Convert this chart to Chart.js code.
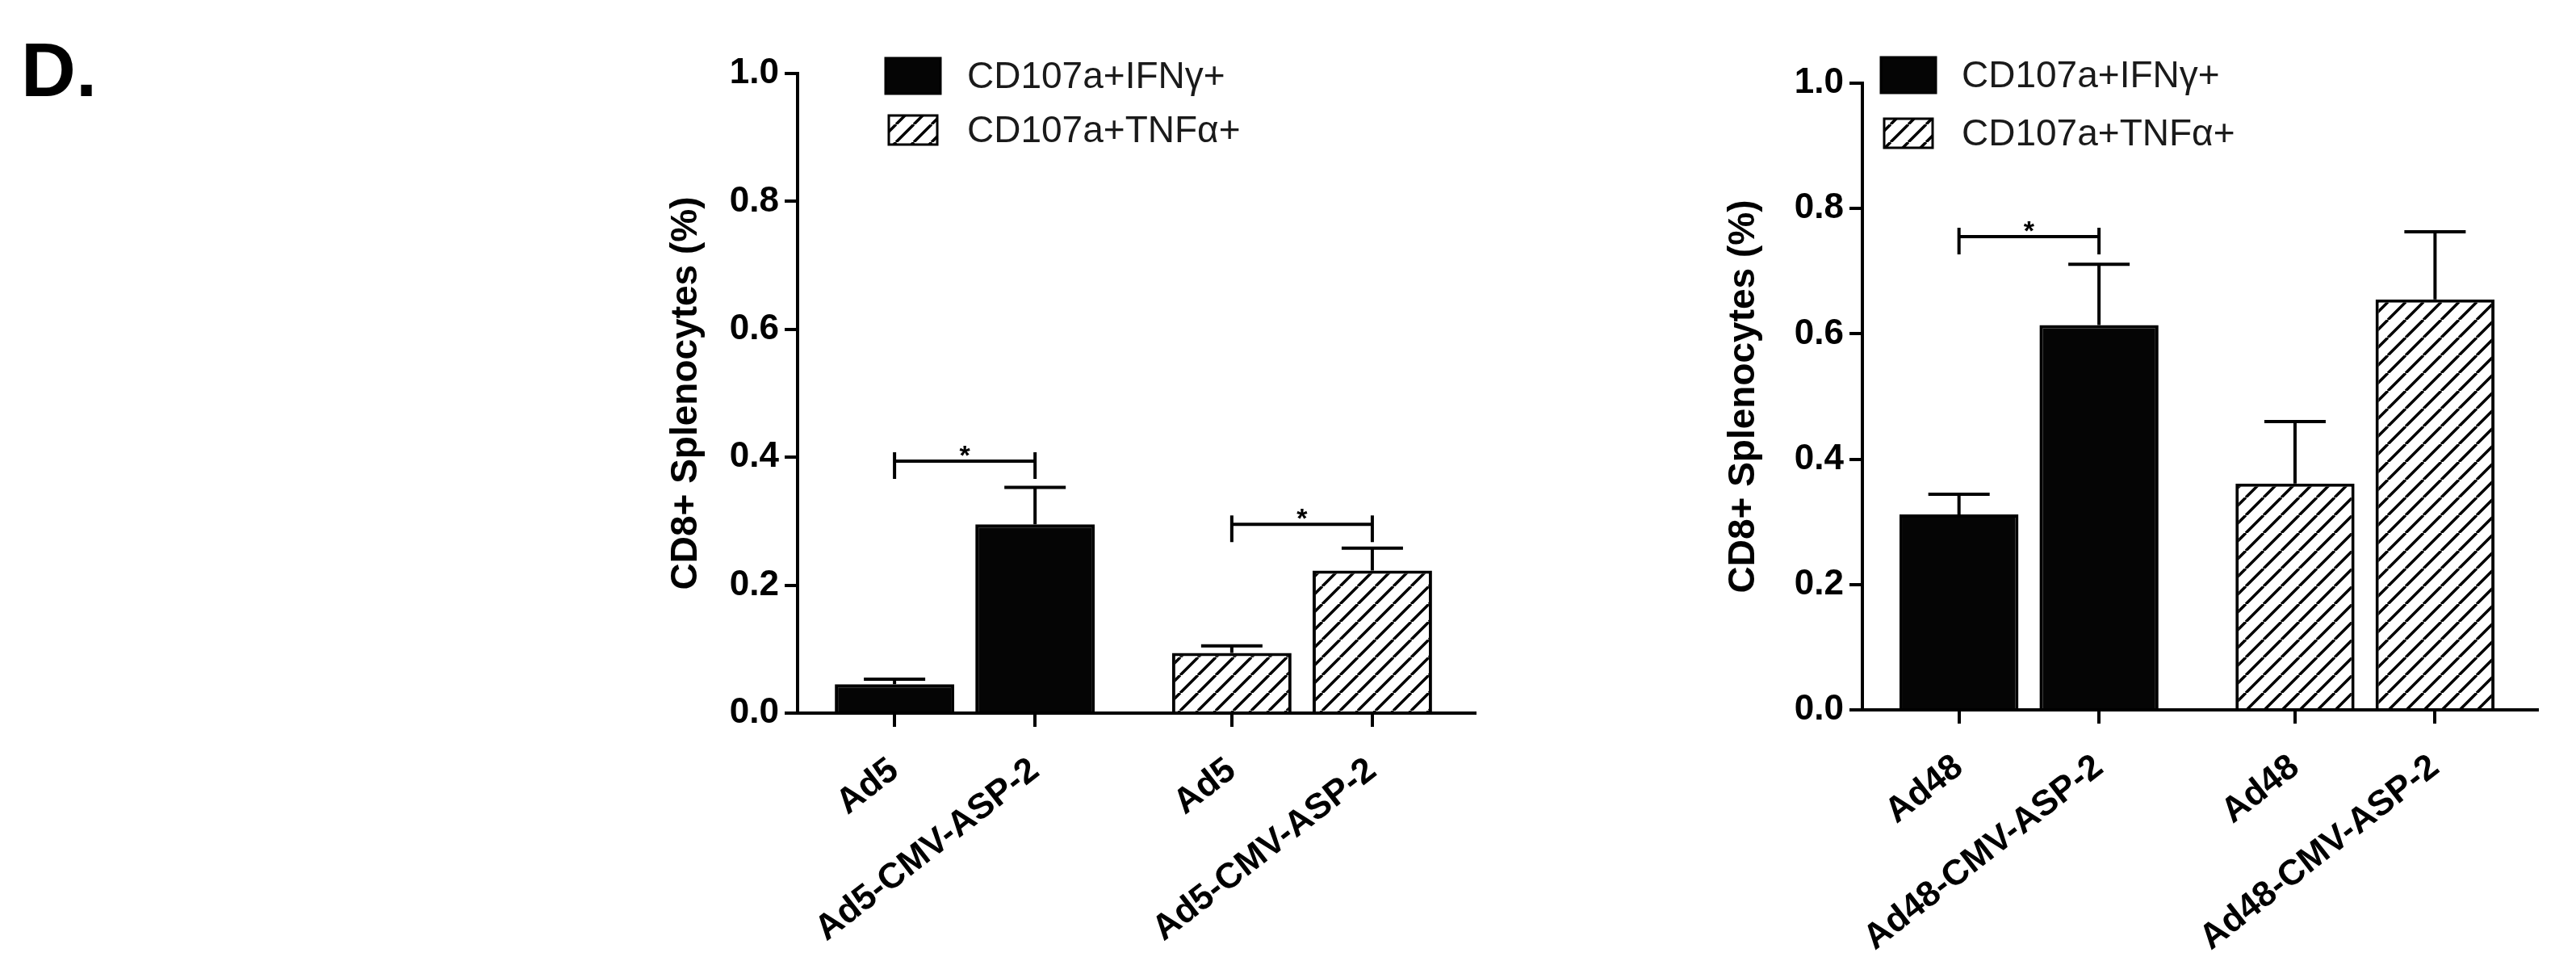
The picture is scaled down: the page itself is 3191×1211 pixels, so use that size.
<!DOCTYPE html>
<html>
<head>
<meta charset="utf-8">
<script src="https://cdn.jsdelivr.net/npm/chart.js@4/dist/chart.umd.min.js"></script>
<style>
html, body { margin: 0; padding: 0; background: #fff; }
body { width: 3191px; height: 1211px; position: relative; overflow: hidden; font-family: "Liberation Sans", Arial, sans-serif; }
#panel-label { position: absolute; left: 26px; top: 40px; font-weight: bold; font-size: 94px; line-height: 1; color: #000; }
canvas { position: absolute; top: 0; }
#left { left: 780px; }
#right { left: 2100px; }
</style>
</head>
<body>
<div id="panel-label">D.</div>
<canvas id="left" width="1100" height="1211"></canvas>
<canvas id="right" width="1091" height="1211"></canvas>
<script>
// x positions of the 4 bars (2 groups, gap between the groups)
const barPos = [0, 1, 2.4, 3.4];
const seriesNames = ['CD107a+IFNγ+', 'CD107a+TNFα+'];
const yTicks = [0, 0.2, 0.4, 0.6, 0.8, 1.0];
const yTitle = 'CD8+ Splenocytes (%)';

// Ad5 panel
const ad5Labels = ['Ad5', 'Ad5-CMV-ASP-2', 'Ad5', 'Ad5-CMV-ASP-2'];
const ad5Ifn = [0.045, 0.295];
const ad5IfnSem = [0.008, 0.058];
const ad5Tnf = [0.094, 0.223];
const ad5TnfSem = [0.011, 0.035];
const ad5Sig = [[0, 1, 0.394], [2.4, 3.4, 0.295]];

// Ad48 panel
const ad48Labels = ['Ad48', 'Ad48-CMV-ASP-2', 'Ad48', 'Ad48-CMV-ASP-2'];
const ad48Ifn = [0.312, 0.614];
const ad48IfnSem = [0.032, 0.097];
const ad48Tnf = [0.361, 0.655];
const ad48TnfSem = [0.099, 0.108];
const ad48Sig = [[0, 1, 0.755]];

const FONT = '"Liberation Sans", Arial, sans-serif';

function hatch(ctx) {
  const s = 22;
  const c = document.createElement('canvas');
  c.width = s; c.height = s;
  const g = c.getContext('2d');
  g.fillStyle = '#fff'; g.fillRect(0, 0, s, s);
  g.strokeStyle = '#000'; g.lineWidth = 3.5;
  g.beginPath();
  for (let k = -1; k <= 1; k++) { g.moveTo(k * s, s); g.lineTo(k * s + s, 0); }
  g.stroke();
  return ctx.createPattern(c, 'repeat');
}

// error bars (upper half only, like GraphPad)
const semBars = {
  id: 'semBars',
  afterDatasetsDraw(chart) {
    const { ctx, scales: { y } } = chart;
    ctx.save();
    ctx.strokeStyle = '#000'; ctx.lineWidth = 4;
    chart.data.datasets.forEach((ds, di) => {
      chart.getDatasetMeta(di).data.forEach((bar, i) => {
        const top = y.getPixelForValue(ds.data[i].y + ds.sem[i]);
        ctx.beginPath();
        ctx.moveTo(bar.x, bar.y); ctx.lineTo(bar.x, top);
        ctx.moveTo(bar.x - 38, top); ctx.lineTo(bar.x + 38, top);
        ctx.stroke();
      });
    });
    ctx.restore();
  }
};

// significance brackets with a star
const sigMarks = {
  id: 'sigMarks',
  afterDatasetsDraw(chart, args, opts) {
    const { ctx, scales: { x, y } } = chart;
    ctx.save();
    ctx.strokeStyle = '#000'; ctx.fillStyle = '#000'; ctx.lineWidth = 4;
    ctx.font = 'bold 34px ' + FONT;
    ctx.textAlign = 'center'; ctx.textBaseline = 'alphabetic';
    opts.pairs.forEach(([a, b, v]) => {
      const x1 = x.getPixelForValue(a), x2 = x.getPixelForValue(b), yy = y.getPixelForValue(v);
      ctx.beginPath();
      ctx.moveTo(x1, yy); ctx.lineTo(x2, yy);
      ctx.moveTo(x1, yy - 11); ctx.lineTo(x1, yy + 22);
      ctx.moveTo(x2, yy - 11); ctx.lineTo(x2, yy + 22);
      ctx.stroke();
      ctx.fillText('*', (x1 + x2) / 2, yy + 4);
    });
    ctx.restore();
  }
};

// legend placed inside the plot, top left
const keyBox = {
  id: 'keyBox',
  afterDraw(chart, args, opts) {
    const { ctx, chartArea } = chart;
    ctx.save();
    ctx.font = '46px ' + FONT;
    ctx.textBaseline = 'middle'; ctx.textAlign = 'left';
    chart.data.datasets.forEach((ds, i) => {
      const cy = chartArea.top + opts.rows[i];
      const cx = chartArea.left + opts.boxX;
      const w = i === 0 ? 68 : 60, h = i === 0 ? 44 : 36;
      ctx.fillStyle = ds.backgroundColor;
      ctx.fillRect(cx - w / 2, cy - h / 2, w, h);
      ctx.strokeStyle = '#000'; ctx.lineWidth = 3;
      ctx.strokeRect(cx - w / 2, cy - h / 2, w, h);
      ctx.fillStyle = '#1a1a1a';
      ctx.fillText(ds.label, chartArea.left + opts.textX, cy + 2);
    });
    ctx.restore();
  }
};

function makePanel(id, o) {
  const ctx = document.getElementById(id).getContext('2d');
  const pat = hatch(ctx);
  const barOpts = { borderColor: '#000', borderWidth: 4, grouped: false, categoryPercentage: 1, barPercentage: 0.85 };
  return new Chart(ctx, {
    type: 'bar',
    data: {
      datasets: [
        Object.assign({ label: seriesNames[0], data: o.ifn.map((v, i) => ({ x: barPos[i], y: v })), sem: o.ifnSem,
          backgroundColor: '#050505' }, barOpts),
        Object.assign({ label: seriesNames[1], data: o.tnf.map((v, i) => ({ x: barPos[i + 2], y: v })), sem: o.tnfSem,
          backgroundColor: pat }, barOpts)
      ]
    },
    options: {
      responsive: false,
      animation: false,
      layout: { padding: { top: o.top, right: o.right, left: 0, bottom: 0 } },
      plugins: {
        legend: { display: false },
        tooltip: { enabled: false },
        sigMarks: { pairs: o.sig },
        keyBox: o.key
      },
      scales: {
        x: {
          type: 'linear', min: -0.69, max: 4.13, offset: false,
          afterBuildTicks: s => { s.ticks = barPos.map(v => ({ value: v })); },
          afterFit: s => { s.height = o.xHeight; },
          grid: { offset: false, drawOnChartArea: false, drawTicks: true, tickLength: 17, color: '#000', lineWidth: 4 },
          border: { display: true, color: '#000', width: 4 },
          ticks: {
            autoSkip: false, minRotation: 38, maxRotation: 38, padding: 28, color: '#000',
            font: { family: FONT, size: 44, weight: 'bold' },
            callback: (v, i) => o.labels[i]
          }
        },
        y: {
          min: 0, max: 1,
          afterBuildTicks: s => { s.ticks = yTicks.map(v => ({ value: v })); },
          afterFit: s => { s.width = o.yWidth; },
          grid: { drawOnChartArea: false, drawTicks: true, tickLength: 16, color: '#000', lineWidth: 4 },
          border: { display: true, color: '#000', width: 4 },
          ticks: {
            padding: 7, color: '#000',
            font: { family: FONT, size: 44, weight: 'bold' },
            callback: v => v.toFixed(1)
          },
          title: {
            display: true, text: yTitle, color: '#000',
            font: { family: FONT, size: 46, weight: 'bold' },
            padding: { top: o.titlePad, bottom: 0 }
          }
        }
      }
    },
    plugins: [semBars, sigMarks, keyBox]
  });
}

makePanel('left', {
  labels: ad5Labels, ifn: ad5Ifn, ifnSem: ad5IfnSem, tnf: ad5Tnf, tnfSem: ad5TnfSem, sig: ad5Sig,
  top: 91, right: 53, xHeight: 328, yWidth: 208, titlePad: 43,
  key: { boxX: 143, textX: 210, rows: [3, 70] }
});

makePanel('right', {
  labels: ad48Labels, ifn: ad48Ifn, ifnSem: ad48IfnSem, tnf: ad48Tnf, tnfSem: ad48TnfSem, sig: ad48Sig,
  top: 103, right: 48, xHeight: 332, yWidth: 207, titlePad: 33,
  key: { boxX: 57, textX: 123, rows: [-10, 62] }
});
</script>
</body>
</html>
